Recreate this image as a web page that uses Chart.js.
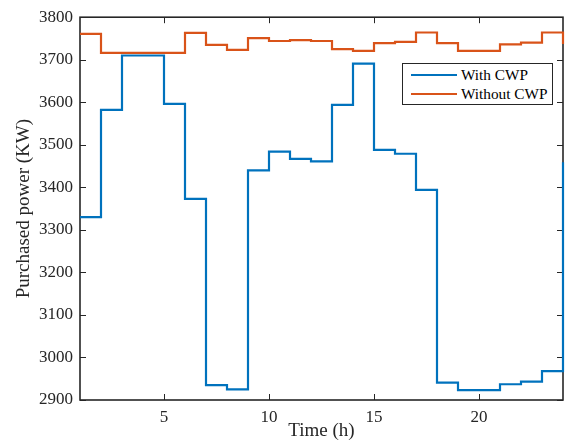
<!DOCTYPE html>
<html>
<head>
<meta charset="utf-8">
<script src="https://cdn.jsdelivr.net/npm/chart.js@4.4.0/dist/chart.umd.min.js"></script>
<style>
  body { margin: 0; background: #fff; }
  #wrap { position: relative; width: 569px; height: 442px; }
  #legend {
    position: absolute; left: 402px; top: 63px; width: 149px; height: 40px;
    border: 1px solid #262626; background: #fff;
    font-family: 'Liberation Serif', serif; font-size: 15.3px; color: #000;
  }
  #legend .item { position: absolute; left: 8px; height: 18px; line-height: 18px; white-space: nowrap; }
  #legend .swatch { display: inline-block; width: 46px; height: 2px; vertical-align: middle; margin-right: 4px; position: relative; top: -1px; }
</style>
</head>
<body>
<div id="wrap">
  <canvas id="myChart" width="569" height="442"></canvas>
  <div id="legend"></div>
</div>
<script>
// hours 1..24, stairs plot
const hours = [1, 2, 3, 4, 5, 6, 7, 8, 9, 10, 11, 12, 13, 14, 15, 16, 17, 18, 19, 20, 21, 22, 23, 24];
const withCWP = [3330, 3582, 3710, 3710, 3596, 3373, 2935, 2925, 3440, 3484, 3467, 3461,
                 3594, 3691, 3488, 3479, 3394, 2941, 2923, 2923, 2937, 2943, 2968, 3459];
const withoutCWP = [3761, 3716, 3716, 3716, 3716, 3763, 3735, 3723, 3751, 3744, 3746, 3744,
                    3725, 3721, 3739, 3742, 3764, 3739, 3721, 3721, 3736, 3740, 3764, 3737];
const seriesNames = ['With CWP', 'Without CWP'];
const seriesColors = ['#0072BD', '#D95319'];
const xTicks = [5, 10, 15, 20];
const yMin = 2900, yMax = 3800, yStep = 100;

const FONT = "'Liberation Serif', serif";
const AXIS = '#262626';

Chart.defaults.font.family = FONT;
Chart.defaults.color = AXIS;

function toPoints(vals) {
    return hours.map((h, i) => ({ x: h, y: vals[i] }));
}

// matlab-like box with inward ticks, drawn under the lines
const boxPlugin = {
    id: 'box',
    beforeDatasetsDraw(chart) {
        const { ctx, chartArea: a, scales } = chart;
        const len = 6;
        ctx.save();
        ctx.strokeStyle = AXIS;
        ctx.lineWidth = 1;
        ctx.beginPath();
        scales.x.ticks.forEach(t => {
            const px = Math.round(scales.x.getPixelForValue(t.value)) + 0.5;
            ctx.moveTo(px, a.bottom); ctx.lineTo(px, a.bottom - len);
            ctx.moveTo(px, a.top); ctx.lineTo(px, a.top + len);
        });
        scales.y.ticks.forEach(t => {
            const py = Math.round(scales.y.getPixelForValue(t.value)) + 0.5;
            ctx.moveTo(a.left, py); ctx.lineTo(a.left + len, py);
            ctx.moveTo(a.right, py); ctx.lineTo(a.right - len, py);
        });
        ctx.stroke();
        ctx.lineWidth = 1.6;
        ctx.strokeRect(a.left, a.top, a.right - a.left, a.bottom - a.top);
        ctx.restore();
    }
};

const ctx = document.getElementById('myChart').getContext('2d');
const chart = new Chart(ctx, {
    type: 'line',
    data: {
        datasets: [
            {
                label: seriesNames[0],
                data: toPoints(withCWP),
                borderColor: seriesColors[0],
                borderWidth: 2.2,
                stepped: true,
                pointRadius: 0,
                fill: false,
                clip: 2,
                order: 1
            },
            {
                label: seriesNames[1],
                data: toPoints(withoutCWP),
                borderColor: seriesColors[1],
                borderWidth: 2.2,
                stepped: true,
                pointRadius: 0,
                fill: false,
                clip: 2,
                order: 0
            }
        ]
    },
    options: {
        responsive: false,
        animation: false,
        layout: { padding: { top: 16, right: 6, left: 0, bottom: 0 } },
        plugins: {
            legend: { display: false },
            tooltip: { enabled: false }
        },
        scales: {
            x: {
                type: 'linear',
                min: 1,
                max: 24,
                afterBuildTicks: s => { s.ticks = xTicks.map(v => ({ value: v })); },
                afterFit: s => { s.height = 42; },
                grid: { display: false, drawTicks: false },
                border: { display: false },
                ticks: { color: AXIS, font: { family: FONT, size: 17 }, padding: 7, maxRotation: 0 },
                title: {
                    display: true, text: 'Time (h)', color: AXIS,
                    font: { family: FONT, size: 19 }, padding: { top: 0, bottom: 0 }
                }
            },
            y: {
                min: yMin,
                max: yMax,
                afterFit: s => { s.width = 80; },
                grid: { display: false, drawTicks: false },
                border: { display: false },
                ticks: {
                    stepSize: yStep, color: AXIS, font: { family: FONT, size: 17 }, padding: 7,
                    callback: v => String(v)
                },
                title: {
                    display: true, text: 'Purchased power (KW)', color: AXIS,
                    font: { family: FONT, size: 19 }, padding: { top: 13, bottom: 0 }
                }
            }
        }
    },
    plugins: [boxPlugin]
});

// html legend built from the datasets
const legend = document.getElementById('legend');
chart.data.datasets.forEach((ds, i) => {
    const item = document.createElement('div');
    item.className = 'item';
    item.style.top = (2 + i * 19) + 'px';
    const sw = document.createElement('span');
    sw.className = 'swatch';
    sw.style.background = ds.borderColor;
    item.appendChild(sw);
    item.appendChild(document.createTextNode(ds.label));
    legend.appendChild(item);
});
</script>
</body>
</html>
